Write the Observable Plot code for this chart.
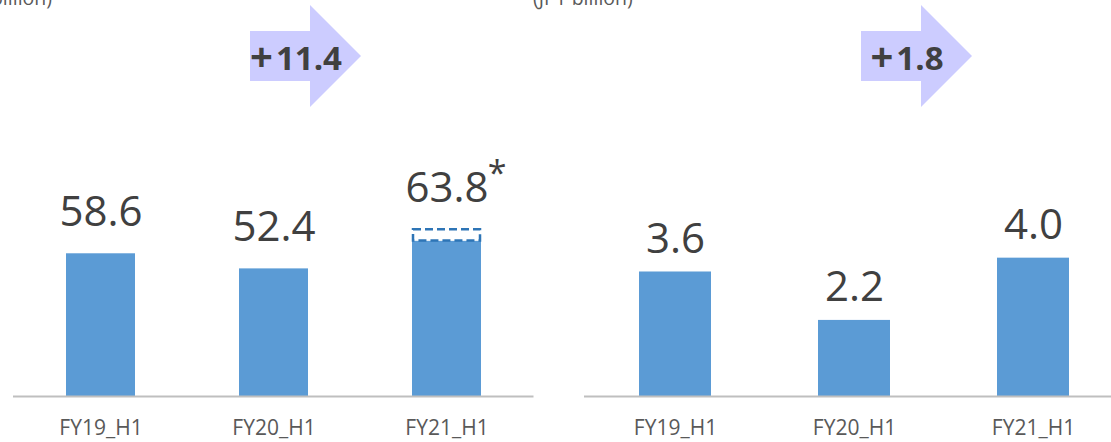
<!DOCTYPE html>
<html><head><meta charset="utf-8">
<script src="https://cdn.jsdelivr.net/npm/d3@7"></script>
<script src="https://cdn.jsdelivr.net/npm/@observablehq/plot@0.6"></script>
<style>
body{margin:0;overflow:hidden;background:#fff;}
#wrap{position:relative;width:1111px;height:442px;overflow:hidden;font-family:"Open Sans",sans-serif;background:#fff;}
#wrap > div.p{position:absolute;top:0;height:442px;}
#wrap svg{max-width:none !important;}
.unit{position:absolute;font-size:19.5px;line-height:20px;color:#595959;white-space:nowrap;}
</style></head><body>
<div id="wrap"></div>
<script>
// ---- data ----
const periods = ["FY19_H1", "FY20_H1", "FY21_H1"];
const revenue = [58.6, 52.4, 63.8];
const revenueDashedTop = [null, null, 68.5];
const profit = [3.6, 2.2, 4.0];
const unitLabel = "(JPY billion)";

const BLUE = "#5b9bd5";
const fmt = d3.format(".1f");

function arrowMark(x0, num) {
  return () => {
    const g = d3.create("svg:g");
    g.append("path")
      .attr("d", `M${x0},31H${x0 + 60}V5L${x0 + 111},56L${x0 + 60},107V81H${x0}Z`)
      .attr("fill", "#ccccff");
    const t = g.append("text")
      .attr("x", x0 + 46).attr("y", 70)
      .attr("text-anchor", "middle")
      .attr("font-size", 33).attr("font-weight", "bold")
      .attr("fill", "#404040")
      .attr("font-family", "'Open Sans', sans-serif");
    t.append("tspan").attr("font-size", 40).attr("dy", 1).text("+");
    t.append("tspan").attr("dx", 3).attr("dy", -1).text(num);
    return g.node();
  };
}

function panel({values, dashedTop, width, marginLeft, marginRight, yMax, labelGap, arrowX}) {
  const data = periods.map((p, i) => ({period: p, value: values[i], top: dashedTop ? dashedTop[i] : null}));
  const dashed = data.filter(d => d.top != null);
  const deltaText = fmt(values[2] - values[1]);
  return Plot.plot({
    width, height: 442,
    marginTop: 0, marginBottom: 46, marginLeft, marginRight,
    style: {fontFamily: "'Open Sans', sans-serif", fontSize: "21px", color: "#595959", background: "transparent"},
    x: {domain: periods, paddingInner: 0.6, paddingOuter: 0.3, tickSize: 0, tickPadding: 24, label: null},
    y: {domain: [0, yMax], axis: null},
    marks: [
      Plot.barY(data, {x: "period", y: "value", fill: BLUE}),
      Plot.barY(dashed, {x: "period", y1: "value", y2: "top", fill: "white", stroke: "#2e75b6", strokeWidth: 2.5, strokeDasharray: "8,4", insetLeft: 1, insetRight: 1}),
      Plot.ruleY([0], {stroke: "#bfbfbf", strokeWidth: 2}),
      Plot.text(data, {x: "period", y: d => d.top ?? d.value, text: d => fmt(d.value), dy: -labelGap, lineAnchor: "bottom", fontSize: 42, fill: "#404040"}),
      Plot.text(dashed, {x: "period", y: "top", text: () => "*", dx: 50, dy: -45, lineAnchor: "bottom", fontSize: 34, fill: "#404040"}),
      arrowMark(arrowX, deltaText)
    ]
  });
}

const wrap = document.getElementById("wrap");

const left = document.createElement("div");
left.className = "p"; left.style.left = "0px"; left.style.width = "555px";
left.appendChild(panel({values: revenue, dashedTop: revenueDashedTop, width: 555, marginLeft: 13, marginRight: 21.5, yMax: 162.6, labelGap: 28, arrowX: 250}));
wrap.appendChild(left);

const right = document.createElement("div");
right.className = "p"; right.style.left = "555px"; right.style.width = "568px";
right.appendChild(panel({values: profit, dashedTop: null, width: 568, marginLeft: 29, marginRight: 0, yMax: 11.45, labelGap: 19, arrowX: 306}));
wrap.appendChild(right);

const u1 = document.createElement("div");
u1.className = "unit"; u1.textContent = unitLabel;
u1.style.right = (1111 - 52) + "px"; u1.style.top = "-12px";
wrap.appendChild(u1);

const u2 = document.createElement("div");
u2.className = "unit"; u2.textContent = unitLabel;
u2.style.left = "533px"; u2.style.top = "-12px";
wrap.appendChild(u2);
</script>
</body></html>
